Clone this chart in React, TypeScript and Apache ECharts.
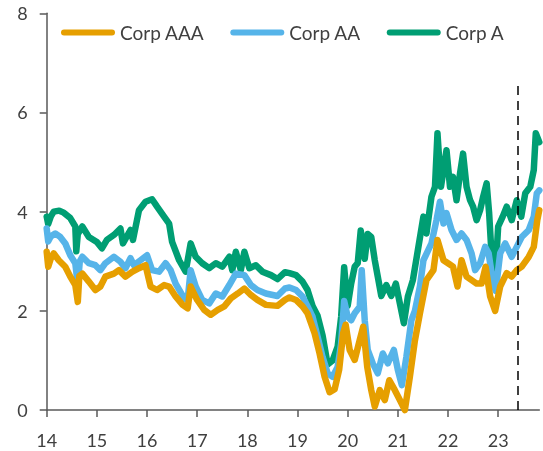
import React, { useEffect, useRef } from "react";
import * as echarts from "echarts";

const tickYears = [14, 15, 16, 17, 18, 19, 20, 21, 22, 23];
const seriesNames = ["Corp AAA", "Corp AA", "Corp A"];
const seriesColors = ["#E69F00", "#56B4E9", "#009E73"];

const corpAAA: [number, number][] = [
  [14.0, 3.19], [14.03, 2.89], [14.08, 3.05], [14.14, 3.16], [14.24, 3.02], [14.37, 2.89], [14.47, 2.69],
  [14.57, 2.52], [14.62, 2.18], [14.65, 2.7], [14.71, 2.75], [14.84, 2.59], [14.97, 2.42], [15.07, 2.49],
  [15.17, 2.69], [15.34, 2.75], [15.44, 2.82], [15.57, 2.69], [15.71, 2.79], [15.84, 2.86], [15.97, 2.92],
  [16.07, 2.49], [16.2, 2.42], [16.34, 2.52], [16.44, 2.49], [16.57, 2.29], [16.71, 2.12], [16.81, 2.05],
  [16.87, 2.49], [16.91, 2.4], [17.0, 2.22], [17.14, 2.02], [17.27, 1.92], [17.41, 2.02], [17.54, 2.09],
  [17.67, 2.25], [17.81, 2.35], [17.94, 2.45], [18.07, 2.32], [18.2, 2.22], [18.37, 2.12], [18.6, 2.1],
  [18.75, 2.22], [18.84, 2.27], [18.97, 2.22], [19.1, 2.09], [19.2, 1.95], [19.34, 1.55], [19.44, 1.14],
  [19.54, 0.67], [19.64, 0.36], [19.74, 0.42], [19.83, 0.81], [19.91, 1.55], [19.96, 1.72], [20.04, 1.21],
  [20.14, 1.01], [20.24, 1.41], [20.31, 1.68], [20.39, 0.87], [20.47, 0.4], [20.54, 0.07], [20.64, 0.4],
  [20.74, 0.2], [20.83, 0.6], [20.94, 0.4], [21.04, 0.2], [21.14, 0.0], [21.24, 0.67], [21.34, 1.4],
  [21.44, 1.95], [21.57, 2.62], [21.71, 2.82], [21.79, 3.43], [21.91, 3.02], [22.0, 2.96], [22.1, 2.89],
  [22.19, 2.49], [22.27, 3.02], [22.37, 2.69], [22.47, 2.62], [22.57, 2.55], [22.67, 2.55], [22.75, 2.89],
  [22.84, 2.29], [22.94, 2.0], [23.04, 2.49], [23.17, 2.76], [23.27, 2.69], [23.37, 2.82], [23.47, 2.89],
  [23.61, 3.09], [23.71, 3.29], [23.78, 3.83], [23.82, 4.03],
];

const corpAA: [number, number][] = [
  [14.0, 3.66], [14.03, 3.4], [14.08, 3.5], [14.17, 3.56], [14.27, 3.49], [14.37, 3.36], [14.47, 3.12],
  [14.57, 2.96], [14.62, 2.52], [14.66, 3.0], [14.71, 3.09], [14.84, 2.96], [14.97, 2.92], [15.07, 2.82],
  [15.17, 2.96], [15.34, 3.09], [15.47, 2.99], [15.57, 2.86], [15.67, 3.06], [15.74, 2.92], [15.87, 3.02],
  [16.0, 3.12], [16.1, 2.82], [16.24, 2.79], [16.37, 2.96], [16.47, 2.82], [16.57, 2.55], [16.74, 2.25],
  [16.81, 2.22], [16.87, 2.82], [16.97, 2.49], [17.1, 2.22], [17.24, 2.15], [17.37, 2.35], [17.5, 2.29],
  [17.64, 2.52], [17.77, 2.75], [17.94, 2.72], [18.07, 2.52], [18.2, 2.42], [18.37, 2.35], [18.6, 2.3],
  [18.75, 2.45], [18.84, 2.47], [18.97, 2.42], [19.1, 2.29], [19.2, 2.09], [19.3, 1.88], [19.4, 1.48],
  [19.5, 1.07], [19.6, 0.74], [19.7, 0.67], [19.8, 0.87], [19.87, 1.34], [19.93, 2.2], [20.0, 1.88],
  [20.07, 1.81], [20.14, 1.95], [20.24, 2.08], [20.28, 2.82], [20.34, 1.81], [20.4, 1.21], [20.5, 0.94],
  [20.6, 0.74], [20.7, 1.14], [20.8, 0.94], [20.92, 1.21], [21.0, 0.81], [21.08, 0.5], [21.17, 1.07],
  [21.27, 1.81], [21.34, 2.0], [21.44, 2.49], [21.51, 3.02], [21.67, 3.36], [21.77, 3.83], [21.84, 4.2],
  [21.91, 3.76], [21.97, 3.97], [22.07, 3.63], [22.17, 3.43], [22.27, 3.56], [22.37, 3.43], [22.47, 3.16],
  [22.54, 2.82], [22.64, 2.96], [22.74, 3.29], [22.81, 3.16], [22.89, 2.62], [22.95, 2.4], [23.04, 3.16],
  [23.14, 3.36], [23.27, 3.09], [23.37, 3.29], [23.47, 3.49], [23.61, 3.63], [23.71, 3.9], [23.77, 4.37],
  [23.82, 4.43],
];

const corpA: [number, number][] = [
  [14.0, 3.9], [14.03, 3.75], [14.08, 3.9], [14.14, 4.0], [14.25, 4.02], [14.34, 3.98], [14.47, 3.87],
  [14.57, 3.7], [14.59, 3.2], [14.62, 3.55], [14.71, 3.7], [14.84, 3.49], [15.0, 3.39], [15.1, 3.26],
  [15.2, 3.43], [15.34, 3.53], [15.47, 3.66], [15.52, 3.36], [15.67, 3.63], [15.72, 3.43], [15.84, 4.03],
  [15.97, 4.2], [16.1, 4.25], [16.2, 4.1], [16.34, 3.9], [16.44, 3.76], [16.5, 3.39], [16.64, 3.02],
  [16.77, 2.79], [16.87, 3.36], [16.97, 3.09], [17.1, 2.96], [17.24, 2.86], [17.37, 2.96], [17.5, 2.89],
  [17.64, 3.09], [17.7, 2.82], [17.77, 3.19], [17.87, 2.82], [17.94, 3.19], [18.04, 2.86], [18.17, 2.92],
  [18.3, 2.79], [18.47, 2.72], [18.6, 2.64], [18.75, 2.78], [18.84, 2.76], [18.97, 2.72], [19.1, 2.59],
  [19.2, 2.42], [19.3, 2.1], [19.4, 1.9], [19.5, 1.5], [19.6, 0.92], [19.7, 1.0], [19.8, 1.28],
  [19.87, 1.88], [19.93, 2.88], [20.0, 2.1], [20.07, 2.55], [20.14, 2.89], [20.2, 2.96], [20.26, 3.62],
  [20.34, 3.05], [20.4, 3.55], [20.47, 3.49], [20.54, 3.02], [20.6, 2.69], [20.67, 2.3], [20.77, 2.52],
  [20.87, 2.3], [20.96, 2.55], [21.04, 2.15], [21.12, 1.75], [21.2, 2.29], [21.3, 2.62], [21.41, 3.29],
  [21.51, 3.9], [21.57, 3.56], [21.67, 4.3], [21.74, 4.5], [21.79, 5.58], [21.86, 4.5], [21.93, 4.97],
  [21.97, 5.24], [22.04, 4.5], [22.1, 4.7], [22.17, 4.23], [22.24, 4.77], [22.3, 5.17], [22.37, 4.5],
  [22.44, 4.23], [22.5, 4.1], [22.57, 3.83], [22.64, 4.03], [22.7, 4.3], [22.77, 4.57], [22.82, 3.97],
  [22.87, 3.1], [22.94, 2.65], [23.0, 3.7], [23.09, 3.9], [23.17, 4.1], [23.27, 3.83], [23.37, 4.23],
  [23.46, 3.9], [23.54, 4.37], [23.64, 4.5], [23.71, 4.84], [23.75, 5.58], [23.82, 5.4],
];

const markerYear = 23.4;
const markerTop = 6.55;

const FONT = "Lato, 'Open Sans', sans-serif";
const TEXT = "#404040";
const AXIS = "#595959";
const LEGEND_ICON = "path://M3,0 L51,0 A3,3 0 0 1 51,6 L3,6 A3,3 0 0 1 3,0 Z";

export default function App() {
  const ref = useRef<HTMLDivElement>(null);

  useEffect(() => {
    if (!ref.current) return;
    const chart = echarts.init(ref.current, null, { renderer: "svg" });
    const datasets = [corpAAA, corpAA, corpA];
    const zs = [4, 3, 2];
    chart.setOption({
      animation: false,
      grid: { left: 46.7, right: 3.7, top: 13.3, bottom: 41, outerBoundsMode: "none" },
      legend: {
        top: 18,
        left: 56,
        itemWidth: 54,
        itemHeight: 6,
        itemGap: 26,
        icon: LEGEND_ICON,
        data: seriesNames,
        textStyle: { fontFamily: FONT, fontSize: 19, color: TEXT },
      },
      xAxis: {
        type: "value",
        min: 14,
        max: 23.82,
        interval: 1,
        axisLine: { show: true, lineStyle: { color: AXIS, width: 1.5 } },
        axisTick: { show: true, length: 7, customValues: tickYears, lineStyle: { color: AXIS, width: 1.5 } },
        axisLabel: {
          customValues: tickYears,
          margin: 21,
          fontFamily: FONT,
          fontSize: 18,
          color: TEXT,
          formatter: (v: number) => (Number.isInteger(v) ? String(v) : ""),
        },
        splitLine: { show: false },
      },
      yAxis: {
        type: "value",
        min: 0,
        max: 8,
        interval: 2,
        axisLine: { show: true, lineStyle: { color: AXIS, width: 1.5 } },
        axisTick: { show: true, length: 7, lineStyle: { color: AXIS, width: 1.5 } },
        axisLabel: { margin: 19, fontFamily: FONT, fontSize: 18, color: TEXT },
        splitLine: { show: false },
      },
      series: seriesNames.map((name, i) => ({
        name,
        type: "line",
        data: datasets[i],
        symbol: "none",
        showSymbol: false,
        clip: false,
        z: zs[i],
        color: seriesColors[i],
        itemStyle: { color: seriesColors[i] },
        lineStyle: { color: seriesColors[i], width: 6.5, cap: "round", join: "round" },
        emphasis: { disabled: true },
        markLine:
          i === 0
            ? {
                silent: true,
                symbol: ["none", "none"],
                label: { show: false },
                lineStyle: { color: "#000000", type: [9, 6], width: 1.5 },
                emphasis: { disabled: true },
                data: [[{ coord: [markerYear, 0] }, { coord: [markerYear, markerTop] }]],
              }
            : undefined,
      })),
    });
    return () => chart.dispose();
  }, []);

  return <div ref={ref} style={{ position: "fixed", left: 0, top: 0, width: 543, height: 451 }} />;
}
